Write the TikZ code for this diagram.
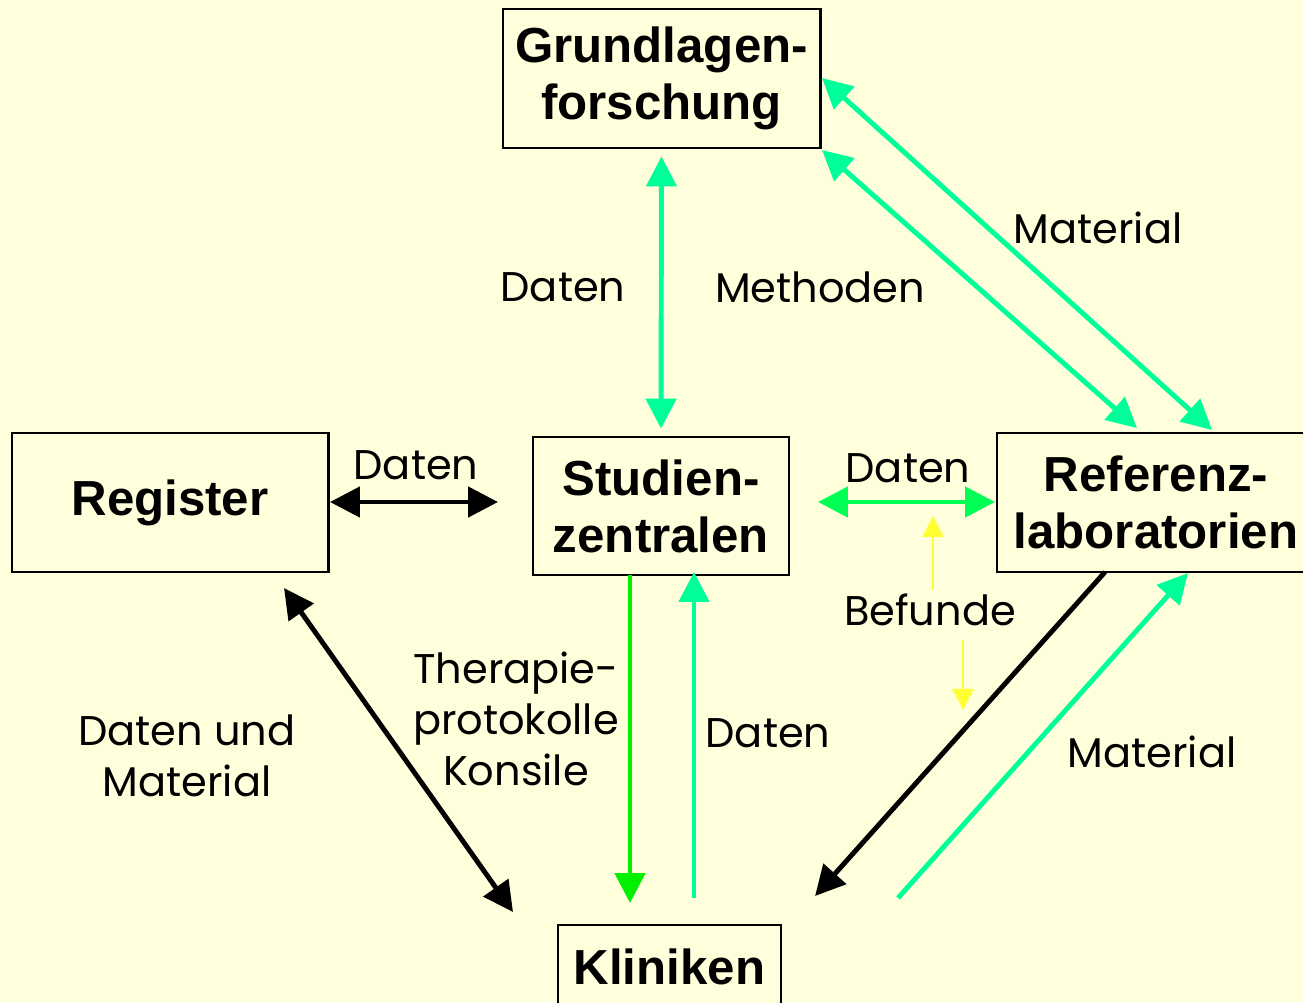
\documentclass[tikz,border=0pt]{standalone}
\usepackage{fontspec}
\setmainfont{Poppins}
\newfontfamily\boxfont{Liberation Sans}
\usetikzlibrary{arrows.meta,calc}
\definecolor{bgpaper}{HTML}{FFFFDC}
\definecolor{mint}{HTML}{00FF99}
\definecolor{lgreen}{HTML}{00FF55}
\definecolor{vgreen}{HTML}{00F000}
\definecolor{lyellow}{HTML}{FFFF33}
\tikzset{
  bigtip/.tip={Triangle[length=8.5pt,width=8.5pt]},
  smalltip/.tip={Triangle[length=6pt,width=6pt]},
  box/.style={draw, line width=0.8pt, fill=bgpaper, align=center, inner sep=0pt,
    font=\boxfont\bfseries\fontsize{14}{16.2}\selectfont},
  lbl/.style={align=center, inner sep=0pt, font=\fontsize{11.8}{14.6}\selectfont},
  onearr/.style={line width=1.4pt, -bigtip},
  twoarr/.style={line width=1.4pt, bigtip-bigtip},
  thinarr/.style={line width=0.75pt, color=lyellow, -smalltip}
}
\begin{document}
\begin{tikzpicture}[x=0.01cm,y=-0.01cm]
\fill[bgpaper] (0,0) rectangle (1303,1002);
\useasboundingbox (0,0) rectangle (1303,1002);

% boxes
\node[box, minimum width=3.17cm, minimum height=1.39cm] (grund) at (661.5,78.5) {Grundlagen-\\forschung};
\node[box, minimum width=3.16cm, minimum height=1.39cm] (reg) at (170,502.5) {Register};
\node[box, minimum width=2.56cm, minimum height=1.38cm] (stud) at (661,506) {Studien-\\zentralen};
\node[box, minimum width=3.18cm, minimum height=1.39cm] (ref) at (1156,502.5) {Referenz-\\laboratorien};
\node[box, minimum width=2.23cm, minimum height=0.84cm] (klin) at (669.5,967) {Kliniken};

% free ends of connectors
\coordinate (gMat) at (822,78);
\coordinate (rMat) at (1212,430);
\coordinate (gMet) at (822,150);
\coordinate (rMet) at (1137,428);
\coordinate (regR) at (330,502);
\coordinate (studL) at (498,502);
\coordinate (studR) at (818,502);
\coordinate (refL) at (995,502);
\coordinate (befUpA) at (933,590);
\coordinate (befUpB) at (933,516);
\coordinate (befDnA) at (963,640);
\coordinate (befDnB) at (963,710);
\coordinate (studDnA) at (630,575);
\coordinate (klinDnB) at (630,903);
\coordinate (klinUpA) at (694,898);
\coordinate (studUpB) at (694,572);
\coordinate (regB) at (284,588);
\coordinate (klinL) at (513,912);
\coordinate (refB) at (1105,572);
\coordinate (klinR) at (815,896);
\coordinate (klinM) at (898,898);
\coordinate (refBM) at (1188,573);

% connectors
\draw[twoarr, mint] ($(grund.south)+(0,7)$) -- ($(stud.north)+(0,-7)$);
\draw[twoarr, mint] (gMat) -- (rMat);
\draw[twoarr, mint] (gMet) -- (rMet);
\draw[twoarr, black] (regR) -- (studL);
\draw[twoarr, lgreen] (studR) -- (refL);
\draw[thinarr] (befUpA) -- (befUpB);
\draw[thinarr] (befDnA) -- (befDnB);
\draw[onearr, vgreen] (studDnA) -- (klinDnB);
\draw[onearr, mint] (klinUpA) -- (studUpB);
\draw[twoarr, black] (regB) -- (klinL);
\draw[onearr, black] (refB) -- (klinR);
\draw[onearr, mint] (klinM) -- (refBM);

% labels
\node[lbl] (l1) at (563,287) {Daten};
\node[lbl] (l2) at (820,287) {Methoden};
\node[lbl] (l3) at (1098,228) {Material};
\node[lbl] (l4) at (416,465) {Daten};
\node[lbl] (l5) at (908,468) {Daten};
\node[lbl] (l6) at (930,610) {Befunde};
\node[lbl] (l7) at (516,719) {Therapie-\\protokolle\\Konsile};
\node[lbl] (l8) at (768,733) {Daten};
\node[lbl] (l9) at (187,756) {Daten und\\Material};
\node[lbl] (l10) at (1152,752) {Material};
\end{tikzpicture}
\end{document}
